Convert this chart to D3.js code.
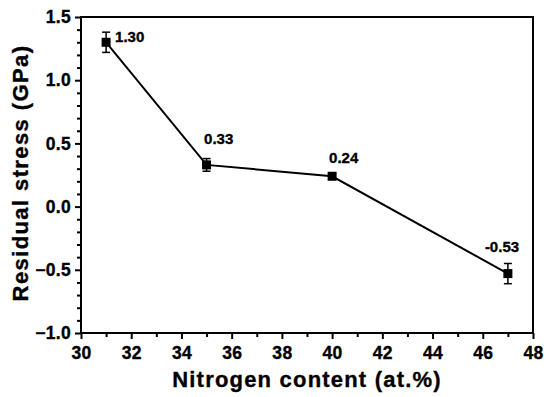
<!DOCTYPE html>
<html>
<head>
<meta charset="utf-8">
<script src="https://cdn.jsdelivr.net/npm/d3@7"></script>
<style>
  body { margin: 0; background: #fff; }
  svg text { font-family: "Liberation Sans", Arial, sans-serif; font-weight: bold; fill: #000; stroke: #000; stroke-width: 0.35px; }
</style>
</head>
<body>
<script>
const width = 550, height = 397;
const margin = {top: 17, right: 17, bottom: 64, left: 81};

// data
const nitrogen = [31, 35, 40, 47];
const stress = [1.30, 0.33, 0.24, -0.53];
const stressErr = [0.08, 0.05, 0.02, 0.08];
const valueLabels = ["1.30", "0.33", "0.24", "-0.53"];
const xTicks = [30, 32, 34, 36, 38, 40, 42, 44, 46, 48];
const yTicks = [-1.0, -0.5, 0.0, 0.5, 1.0, 1.5];

const points = nitrogen.map((n, i) => ({x: n, y: stress[i], e: stressErr[i], label: valueLabels[i]}));

const svg = d3.select(document.body).append("svg")
    .attr("width", width).attr("height", height);

const x = d3.scaleLinear().domain([30, 48]).range([margin.left, width - margin.right]);
const y = d3.scaleLinear().domain([-1.0, 1.5]).range([height - margin.bottom, margin.top]);

// frame
svg.append("rect")
    .attr("x", x(30)).attr("y", y(1.5))
    .attr("width", x(48) - x(30)).attr("height", y(-1.0) - y(1.5))
    .attr("fill", "none").attr("stroke", "#000").attr("stroke-width", 2);

// x axis: major + minor
const xMinor = d3.range(31, 48, 2);
svg.append("g")
    .attr("transform", `translate(0,${y(-1.0)})`)
    .call(d3.axisBottom(x).tickValues(xMinor).tickSize(4).tickFormat(""))
    .call(g => g.select(".domain").remove())
    .call(g => g.selectAll("line").attr("stroke-width", 2));
svg.append("g")
    .attr("transform", `translate(0,${y(-1.0)})`)
    .call(d3.axisBottom(x).tickValues(xTicks).tickSize(6).tickPadding(8).tickFormat(d3.format("d")))
    .call(g => g.select(".domain").remove())
    .call(g => g.selectAll("line").attr("stroke-width", 2))
    .call(g => g.selectAll("text").style("font-size", "17.5px").style("letter-spacing", "0.3px"));

// y axis: major + minor
const yMinor = d3.range(-10, 16).map(v => v / 10).filter(v => Math.abs(v * 2 - Math.round(v * 2)) > 1e-6);
svg.append("g")
    .attr("transform", `translate(${x(30)},0)`)
    .call(d3.axisLeft(y).tickValues(yMinor).tickSize(4).tickFormat(""))
    .call(g => g.select(".domain").remove())
    .call(g => g.selectAll("line").attr("stroke-width", 2));
svg.append("g")
    .attr("transform", `translate(${x(30)},0)`)
    .call(d3.axisLeft(y).tickValues(yTicks).tickSize(6).tickPadding(4).tickFormat(d3.format(".1f")))
    .call(g => g.select(".domain").remove())
    .call(g => g.selectAll("line").attr("stroke-width", 2))
    .call(g => g.selectAll("text").style("font-size", "17.5px").style("letter-spacing", "0.3px"));
svg.selectAll("g").attr("font-family", null);

// axis titles
svg.append("text")
    .attr("x", (x(30) + x(48)) / 2).attr("y", 387)
    .attr("text-anchor", "middle").style("font-size", "22px").style("letter-spacing", "1.2px")
    .text("Nitrogen content (at.%)");
svg.append("text")
    .attr("transform", `translate(28,${(y(-1.0) + y(1.5)) / 2 - 2}) rotate(-90)`)
    .attr("text-anchor", "middle").style("font-size", "22px").style("letter-spacing", "1.4px")
    .text("Residual stress (GPa)");

// line
svg.append("path")
    .datum(points)
    .attr("fill", "none").attr("stroke", "#000").attr("stroke-width", 2)
    .attr("d", d3.line().x(d => x(d.x)).y(d => y(d.y)));

// error bars
const eb = svg.append("g").attr("stroke", "#000").attr("stroke-width", 1.5);
points.forEach(d => {
    eb.append("line").attr("x1", x(d.x)).attr("x2", x(d.x)).attr("y1", y(d.y - d.e)).attr("y2", y(d.y + d.e));
    eb.append("line").attr("x1", x(d.x) - 4).attr("x2", x(d.x) + 4).attr("y1", y(d.y + d.e)).attr("y2", y(d.y + d.e));
    eb.append("line").attr("x1", x(d.x) - 4).attr("x2", x(d.x) + 4).attr("y1", y(d.y - d.e)).attr("y2", y(d.y - d.e));
});

// markers
svg.append("g").selectAll("rect")
    .data(points).join("rect")
    .attr("x", d => x(d.x) - 4.5).attr("y", d => y(d.y) - 4.5)
    .attr("width", 9).attr("height", 9).attr("fill", "#000");

// value labels
const labelPos = [
    {dx: 9, dy: 0},
    {dx: -2.5, dy: -21},
    {dx: -3, dy: -13},
    {dx: -23, dy: -22}
];
svg.append("g").selectAll("text")
    .data(points).join("text")
    .attr("x", (d, i) => x(d.x) + labelPos[i].dx)
    .attr("y", (d, i) => y(d.y) + labelPos[i].dy)
    .style("font-size", "15px")
    .text(d => d.label);
</script>
</body>
</html>
